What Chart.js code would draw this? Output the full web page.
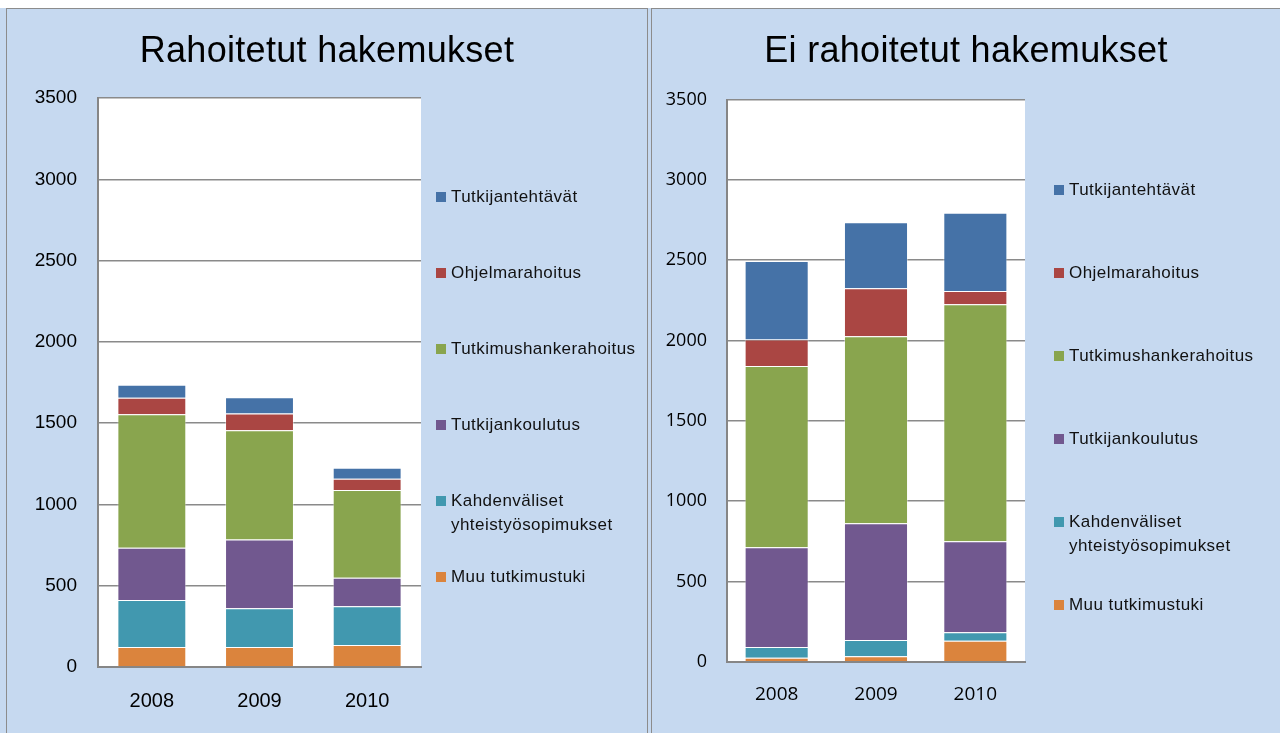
<!DOCTYPE html>
<html>
<head>
<meta charset="utf-8">
<script src="https://cdn.jsdelivr.net/npm/chart.js@4"></script>
<style>
  html, body { margin: 0; padding: 0; background: #fff; }
  body { width: 1280px; height: 733px; position: relative; overflow: hidden; }
  .backdrop { position: absolute; left: 0; top: 8px; width: 1280px; height: 725px; background: #c6d9f0; }
  .panel { position: absolute; top: 8px; height: 732px; background: #c6d9f0; border: 1px solid #8c8c8c; border-bottom: none; }
  #panel-left  { left: 6px; width: 640px; }
  #panel-right { left: 651px; width: 640px; border-right: none; }
  .panel canvas { position: absolute; left: 0; top: 0; }
  .title { position: absolute; left: 0; top: 19px; line-height: 44px; text-align: center; color: #000;
           font-family: "Liberation Sans", Arial, sans-serif; font-size: 36px; letter-spacing: 0.3px; }
  #panel-left .title  { width: 640px; }
  #panel-right .title { width: 628px; }
  .legend { position: absolute; font-family: "Liberation Sans", Arial, sans-serif; font-size: 17px; letter-spacing: 0.45px; color: #111; }
  .legend-item { position: relative; }
  .legend-item .sw { position: absolute; left: 0; top: 7px; width: 10px; height: 10px; }
  .legend-item .tx { position: absolute; left: 15px; top: 0; width: 200px; line-height: 24px; }
</style>
</head>
<body>
<div class="backdrop"></div>
<div class="panel" id="panel-left">
  <canvas id="chart-left" width="640" height="724"></canvas>
  <div class="title">Rahoitetut hakemukset</div>
  <div class="legend" id="legend-left"></div>
</div>
<div class="panel" id="panel-right">
  <canvas id="chart-right" width="628" height="724"></canvas>
  <div class="title">Ei rahoitetut hakemukset</div>
  <div class="legend" id="legend-right"></div>
</div>
<script>
// ─── Data ────────────────────────────────────────────────────────────────────

const years = ['2008', '2009', '2010'];

// series, bottom of the stack first
const seriesNames = [
  'Muu tutkimustuki',
  'Kahdenväliset yhteistyösopimukset',
  'Tutkijankoulutus',
  'Tutkimushankerahoitus',
  'Ohjelmarahoitus',
  'Tutkijantehtävät',
];

// Rahoitetut hakemukset (funded)
const rahMuu       = [123, 123, 135];
const rahKahden    = [289, 238, 238];
const rahKoulutus  = [322, 424, 176];
const rahHanke     = [820, 671, 539];
const rahOhjelma   = [102, 104, 70];
const rahTehtavat  = [80, 99, 68];

// Ei rahoitetut hakemukset (not funded)
const eiMuu        = [25, 34, 131];
const eiKahden     = [67, 101, 52];
const eiKoulutus   = [620, 727, 567];
const eiHanke      = [1129, 1164, 1475];
const eiOhjelma    = [166, 299, 83];
const eiTehtavat   = [488, 411, 488];

const yMax = 3500;
const yStep = 500;

// ─── Colors ──────────────────────────────────────────────────────────────────

const SERIES_COLORS = ['#db843d', '#4198af', '#71588f', '#89a54e', '#aa4643', '#4572a7'];

const $ = (id) => document.getElementById(id);

// ─── Plot background ─────────────────────────────────────────────────────────

const plotBg = {
  id: 'plotBg',
  beforeDraw(chart) {
    const { ctx, chartArea: a } = chart;
    ctx.save();
    ctx.fillStyle = '#ffffff';
    ctx.fillRect(a.left, a.top, a.right - a.left, a.bottom - a.top);
    ctx.restore();
  },
};

// ─── Chart builder ───────────────────────────────────────────────────────────

function buildDatasets(rows, barPct) {
  return rows.map((data, i) => ({
    label: seriesNames[i],
    data,
    backgroundColor: SERIES_COLORS[i],
    borderColor: 'rgba(255,255,255,0.4)',
    borderWidth: 1,
    barPercentage: barPct,
    categoryPercentage: 1,
  }));
}

function makeChart(canvasId, rows, o) {
  return new Chart($(canvasId), {
    type: 'bar',
    data: { labels: years, datasets: buildDatasets(rows, o.barPct) },
    plugins: [plotBg],
    options: {
      responsive: false,
      animation: false,
      layout: { padding: { left: 0, right: o.padRight, top: o.padTop, bottom: 0 } },
      plugins: {
        legend: { display: false },
        tooltip: { enabled: false },
        title: { display: false },
      },
      scales: {
        x: {
          stacked: true,
          grid: { display: false, drawTicks: false },
          border: { display: true, color: '#868686', width: 2 },
          ticks: { color: '#000', font: o.xFont, padding: o.xPad },
          afterFit: (s) => { s.height = o.xHeight; },
        },
        y: {
          stacked: true,
          min: 0,
          max: yMax,
          grid: { color: '#8a8a8a', lineWidth: 1.5, drawTicks: false },
          border: { display: true, color: '#868686', width: 2 },
          ticks: {
            stepSize: yStep,
            color: '#000',
            font: o.yFont,
            padding: o.yPad,
            callback: (v) => String(v),
          },
          afterFit: (s) => { s.width = o.yWidth; },
        },
      },
    },
  });
}

// ─── Legend (top of stack first) ─────────────────────────────────────────────

function renderLegend(id, left, top, pitch) {
  const el = $(id);
  el.style.left = left + 'px';
  el.style.top = top + 'px';
  for (let i = seriesNames.length - 1; i >= 0; i--) {
    const item = document.createElement('div');
    item.className = 'legend-item';
    item.style.height = pitch + 'px';
    item.innerHTML = `<span class="sw" style="background:${SERIES_COLORS[i]}"></span><span class="tx">${seriesNames[i]}</span>`;
    el.appendChild(item);
  }
}

// ─── Render ──────────────────────────────────────────────────────────────────

makeChart('chart-left',
  [rahMuu, rahKahden, rahKoulutus, rahHanke, rahOhjelma, rahTehtavat], {
    padTop: 89,
    padRight: 226,
    yWidth: 91,
    xHeight: 66,
    barPct: 0.64,
    yFont: { family: '"Liberation Sans", Arial, sans-serif', size: 19 },
    yPad: 21,
    xFont: { family: '"Liberation Sans", Arial, sans-serif', size: 20, lineHeight: 1.2 },
    xPad: 22,
  });

makeChart('chart-right',
  [eiMuu, eiKahden, eiKoulutus, eiHanke, eiOhjelma, eiTehtavat], {
    padTop: 90.6,
    padRight: 255,
    yWidth: 75,
    xHeight: 71.3,
    barPct: 0.645,
    yFont: { family: '"Open Sans", sans-serif', size: 18 },
    yPad: 20,
    xFont: { family: '"Open Sans", sans-serif', size: 19, lineHeight: 1.2 },
    xPad: 21,
  });

renderLegend('legend-left', 429, 176, 76);
renderLegend('legend-right', 402, 169, 83.1);
</script>
</body>
</html>
